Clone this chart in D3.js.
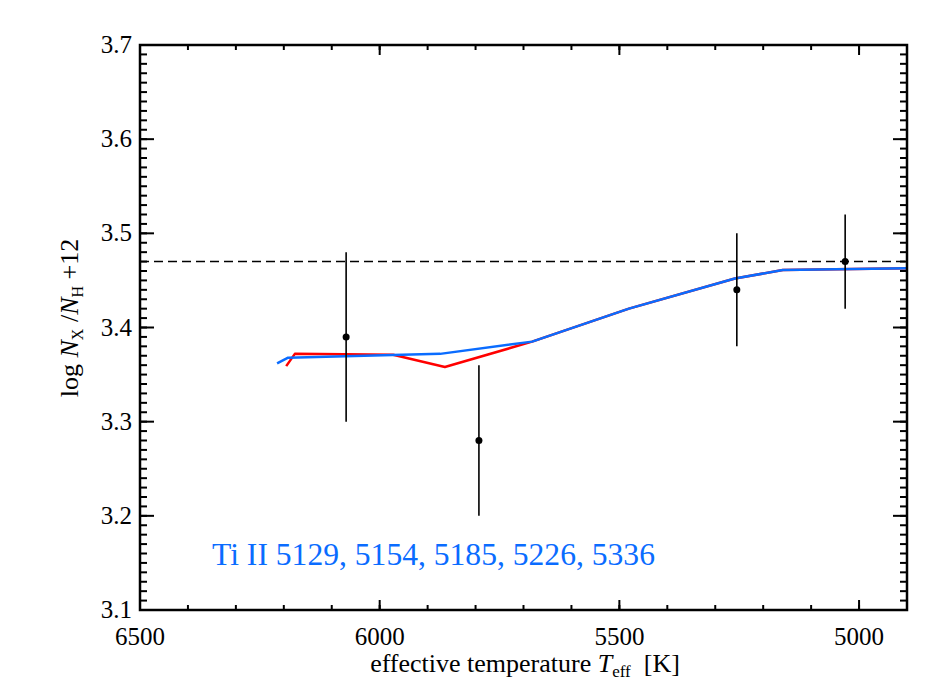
<!DOCTYPE html>
<html>
<head>
<meta charset="utf-8">
<script src="https://cdn.jsdelivr.net/npm/d3@7"></script>
<style>
  body { margin: 0; background: #fff; }
  svg { display: block; }
</style>
</head>
<body>
<svg id="chart" width="950" height="700"></svg>
<script>
// ---- data ----
const starTeff   = [6070, 5793, 5255, 5029];
const starAbund  = [3.39, 3.28, 3.44, 3.47];
const starErr    = [0.09, 0.08, 0.06, 0.05];

const redTeff    = [6195, 6177, 5972, 5864, 5682, 5480, 5259, 5159, 4900];
const redAbund   = [3.359, 3.372, 3.371, 3.358, 3.385, 3.420, 3.452, 3.461, 3.463];

const blueTeff   = [6214, 6191, 5874, 5682, 5480, 5259, 5159, 4900];
const blueAbund  = [3.362, 3.368, 3.372, 3.385, 3.420, 3.452, 3.461, 3.463];

const solarAbund = 3.47;
const xTicks = [6500, 6000, 5500, 5000];
const yTicks = [3.1, 3.2, 3.3, 3.4, 3.5, 3.6, 3.7];
const annotation = "Ti II 5129, 5154, 5185, 5226, 5336";

// ---- layout ----
const FONT = "'Liberation Serif', 'Times New Roman', serif";
const L = 140, R = 907, T = 45, B = 610;
const svg = d3.select("#chart");
const x = d3.scaleLinear().domain([6500, 4900]).range([L, R]);
const y = d3.scaleLinear().domain([3.1, 3.7]).range([B, T]);

const blue = "#0a6cff", red = "#ff0000";

// dashed reference line
svg.append("line")
  .attr("x1", x(6500)).attr("x2", x(4900))
  .attr("y1", y(solarAbund)).attr("y2", y(solarAbund))
  .attr("stroke", "#000").attr("stroke-width", 1.5)
  .attr("stroke-dasharray", "9,5");

const line = d3.line().x(d => x(d[0])).y(d => y(d[1]));

svg.append("path")
  .datum(redTeff.map((t, i) => [t, redAbund[i]]))
  .attr("d", line).attr("fill", "none")
  .attr("stroke", red).attr("stroke-width", 2.5).attr("stroke-linejoin", "round");

svg.append("path")
  .datum(blueTeff.map((t, i) => [t, blueAbund[i]]))
  .attr("d", line).attr("fill", "none")
  .attr("stroke", blue).attr("stroke-width", 2.5).attr("stroke-linejoin", "round");

// error bars and points
const stars = starTeff.map((t, i) => ({t, a: starAbund[i], e: starErr[i]}));
svg.selectAll(".err").data(stars).enter().append("line")
  .attr("x1", d => x(d.t)).attr("x2", d => x(d.t))
  .attr("y1", d => y(d.a - d.e)).attr("y2", d => y(d.a + d.e))
  .attr("stroke", "#000").attr("stroke-width", 1.6);
svg.selectAll(".pt").data(stars).enter().append("circle")
  .attr("cx", d => x(d.t)).attr("cy", d => y(d.a)).attr("r", 3.5).attr("fill", "#000");

// axes
const xMinor = d3.range(6500, 4899, -100);
const yMinor = d3.range(0, 61).map(i => 3.1 + i * 0.01);

function ticksX(ypos, dir) {
  const g = svg.append("g");
  g.selectAll("line.mi").data(xMinor).enter().append("line")
    .attr("x1", d => x(d)).attr("x2", d => x(d))
    .attr("y1", ypos).attr("y2", ypos + dir * 5)
    .attr("stroke", "#000").attr("stroke-width", 2);
  g.selectAll("line.ma").data(xTicks).enter().append("line")
    .attr("x1", d => x(d)).attr("x2", d => x(d))
    .attr("y1", ypos).attr("y2", ypos + dir * 10)
    .attr("stroke", "#000").attr("stroke-width", 2);
}
function ticksY(xpos, dir) {
  const g = svg.append("g");
  g.selectAll("line.mi").data(yMinor).enter().append("line")
    .attr("y1", d => y(d)).attr("y2", d => y(d))
    .attr("x1", xpos).attr("x2", xpos + dir * 7)
    .attr("stroke", "#000").attr("stroke-width", 2);
  g.selectAll("line.ma").data(yTicks).enter().append("line")
    .attr("y1", d => y(d)).attr("y2", d => y(d))
    .attr("x1", xpos).attr("x2", xpos + dir * 14)
    .attr("stroke", "#000").attr("stroke-width", 2);
}
ticksX(B, -1); ticksX(T, 1);
ticksY(L, 1); ticksY(R, -1);

svg.append("rect").attr("x", L).attr("y", T).attr("width", R - L).attr("height", B - T)
  .attr("fill", "none").attr("stroke", "#000").attr("stroke-width", 2.5);

// tick labels
svg.selectAll(".xl").data(xTicks).enter().append("text")
  .attr("x", d => x(d)).attr("y", B + 35)
  .attr("text-anchor", "middle").attr("font-size", 25).attr("font-family", FONT).attr("fill", "#000")
  .text(d => d);
svg.selectAll(".yl").data(yTicks).enter().append("text")
  .attr("x", L - 8).attr("y", d => y(d) + 8)
  .attr("text-anchor", "end").attr("font-size", 25).attr("font-family", FONT).attr("fill", "#000")
  .text(d => d.toFixed(1));

// axis titles
const xt = svg.append("text").attr("x", 525).attr("y", 672)
  .attr("text-anchor", "middle").attr("font-size", 26).attr("font-family", FONT).attr("fill", "#000");
xt.append("tspan").text("effective temperature ");
xt.append("tspan").attr("font-style", "italic").text("T");
xt.append("tspan").attr("font-size", 17).attr("dy", 5).text("eff");
xt.append("tspan").attr("dy", -5).text("\u2002[K]");

const yt = svg.append("text")
  .attr("transform", "translate(78,318) rotate(-90)")
  .attr("text-anchor", "middle").attr("font-size", 26).attr("font-family", FONT).attr("fill", "#000");
yt.append("tspan").text("log ");
yt.append("tspan").attr("font-style", "italic").text("N");
yt.append("tspan").attr("font-size", 16).attr("dy", 5).text("X");
yt.append("tspan").attr("dy", -5).text(" /");
yt.append("tspan").attr("font-style", "italic").text("N");
yt.append("tspan").attr("font-size", 16).attr("dy", 5).text("H");
yt.append("tspan").attr("dy", -5).text(" +12");

// annotation
svg.append("text").attr("x", 212).attr("y", 565)
  .attr("font-size", 31.6).attr("font-family", FONT).attr("fill", blue)
  .text(annotation);
</script>
</body>
</html>
